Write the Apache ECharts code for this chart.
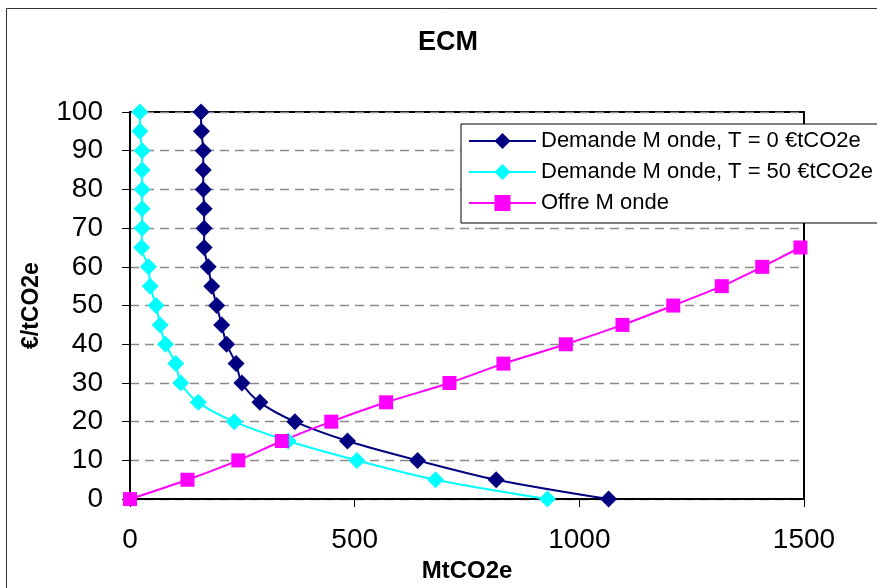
<!DOCTYPE html>
<html>
<head>
<meta charset="utf-8">
<script src="https://cdn.jsdelivr.net/npm/echarts@6/dist/echarts.min.js"></script>
<style>
html,body{margin:0;padding:0;background:#fff;}
#chart{width:877px;height:588px;}
</style>
</head>
<body>
<div id="chart"></div>
<script>
// ---- data ----
var titleText = 'ECM';
var xAxisName = 'MtCO2e';
var yAxisName = '€/tCO2e';
var seriesNames = ['Demande M onde, T = 0 €tCO2e', 'Demande M onde, T = 50 €tCO2e', 'Offre M onde'];

var demandPrices = [100, 95, 90, 85, 80, 75, 70, 65, 60, 55, 50, 45, 40, 35, 30, 25, 20, 15, 10, 5, 0];
var demandT0 = [158, 159, 163, 163, 163, 165, 165, 165, 174, 182, 193, 204, 215, 236, 249, 289, 367, 484, 640, 815, 1065];
var demandT50 = [22, 22, 27, 27, 27, 27, 27, 26, 41, 45, 58, 67, 79, 102, 113, 152, 232, 352, 505, 680, 929];

var offrePrices = [0, 5, 10, 15, 20, 25, 30, 35, 40, 45, 50, 55, 60, 65];
var offreQty = [0, 128, 241, 338, 448, 570, 711, 831, 970, 1096, 1209, 1317, 1407, 1492];
var offreTailQty = 1525;
var offreTailPrice = 66.6;

var xTicks = [0, 500, 1000, 1500];
var yTicks = [0, 10, 20, 30, 40, 50, 60, 70, 80, 90, 100];

// ---- build ----
function pairs(xs, ys) {
  return xs.map(function (x, i) { return [x, ys[i]]; });
}
var offreData = pairs(offreQty, offrePrices);
offreData.push({ value: [offreTailQty, offreTailPrice], symbol: 'none' });

var FONT = '"Liberation Sans", Arial, sans-serif';

var chart = echarts.init(document.getElementById('chart'), null, { renderer: 'canvas' });
chart.setOption({
  backgroundColor: '#ffffff',
  animation: false,
  title: {
    text: titleText,
    left: 448,
    top: 29,
    textAlign: 'center',
    padding: 0,
    textStyle: { fontFamily: FONT, fontSize: 27, fontWeight: 'bold', color: '#000' }
  },
  graphic: [{
    type: 'rect',
    shape: { x: 6.5, y: 8.5, width: 1000, height: 1000 },
    style: { fill: 'none', stroke: '#333', lineWidth: 1 },
    silent: true,
    z: -10
  }],
  legend: {
    left: 461,
    top: 124,
    orient: 'vertical',
    padding: [6, 30, 9, 7],
    itemGap: 9,
    itemWidth: 67,
    itemHeight: 20,
    backgroundColor: '#ffffff',
    borderColor: '#000000',
    borderWidth: 1,
    textStyle: { fontFamily: FONT, fontSize: 22, color: '#000', lineHeight: 22 },
    data: seriesNames
  },
  grid: {
    left: 130,
    right: 73,
    top: 112,
    bottom: 87,
    show: true,
    borderColor: '#000',
    borderWidth: 2,
    backgroundColor: 'transparent'
  },
  xAxis: {
    type: 'value',
    min: 0,
    max: 1500,
    interval: 500,
    name: xAxisName,
    nameLocation: 'middle',
    nameGap: 59,
    nameTextStyle: { fontFamily: FONT, fontSize: 24, fontWeight: 'bold', color: '#000' },
    axisLine: { show: true, lineStyle: { color: '#000', width: 2 } },
    axisTick: { show: true, length: 8, lineStyle: { color: '#000', width: 1 } },
    axisLabel: {
      margin: 27,
      fontFamily: FONT, fontSize: 28, color: '#000',
      formatter: function (v) { return xTicks.indexOf(v) >= 0 ? String(v) : ''; }
    },
    splitLine: { show: false }
  },
  yAxis: {
    type: 'value',
    min: 0,
    max: 100,
    interval: 10,
    name: yAxisName,
    nameLocation: 'middle',
    nameRotate: 90,
    nameGap: 87,
    nameTextStyle: { fontFamily: FONT, fontSize: 23, fontWeight: 'bold', color: '#000' },
    axisLine: { show: true, lineStyle: { color: '#000', width: 2 } },
    axisTick: { show: true, length: 8, lineStyle: { color: '#000', width: 1 } },
    axisLabel: {
      margin: 27,
      fontFamily: FONT, fontSize: 28, color: '#000',
      formatter: function (v) { return yTicks.indexOf(v) >= 0 ? String(v) : ''; }
    },
    splitLine: { show: true, lineStyle: { color: '#8a8a8a', width: 1.3, type: [9, 6] } }
  },
  series: [
    {
      name: seriesNames[0],
      type: 'line',
      data: pairs(demandT0, demandPrices),
      smooth: 0.3,
      symbol: 'diamond',
      symbolSize: 17,
      itemStyle: { color: '#000080' },
      lineStyle: { color: '#000080', width: 2 }
    },
    {
      name: seriesNames[1],
      type: 'line',
      data: pairs(demandT50, demandPrices),
      smooth: 0.3,
      symbol: 'diamond',
      symbolSize: 17,
      itemStyle: { color: '#00FFFF' },
      lineStyle: { color: '#00FFFF', width: 2 }
    },
    {
      name: seriesNames[2],
      type: 'line',
      data: offreData,
      smooth: 0.3,
      clip: false,
      symbol: 'rect',
      symbolSize: 14,
      itemStyle: { color: '#FF00FF' },
      lineStyle: { color: '#FF00FF', width: 2 }
    }
  ]
});
</script>
</body>
</html>
